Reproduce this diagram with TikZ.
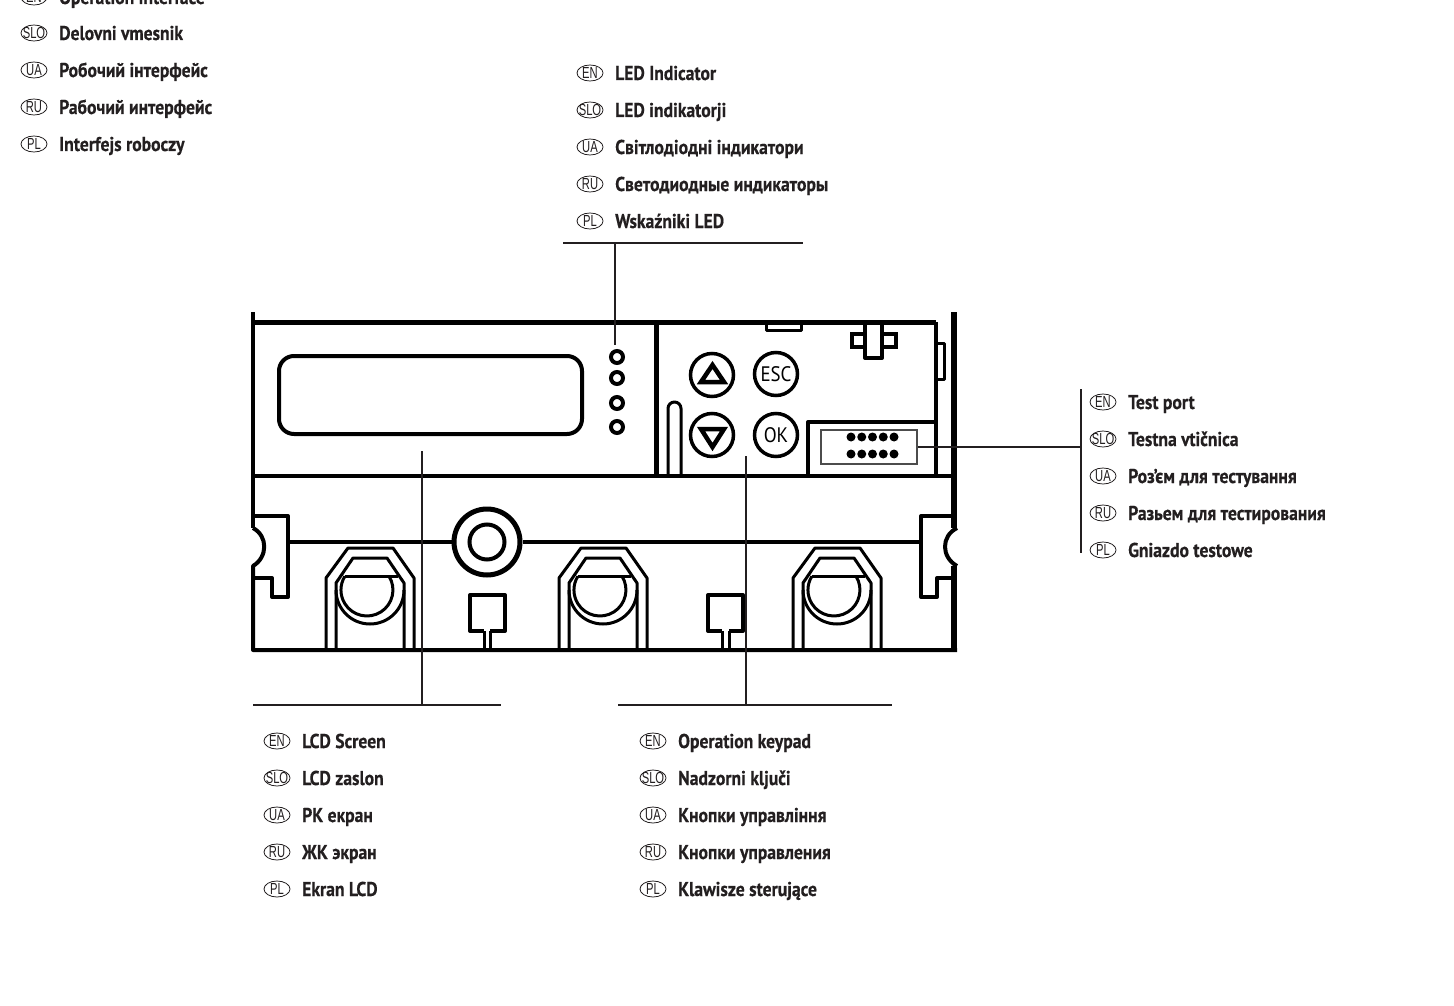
\documentclass[tikz,border=0pt]{standalone}
\usepackage{fontspec}
\usetikzlibrary{shapes.geometric}
\setmainfont{PT Sans}
\newfontfamily\lblfont[FakeStretch=0.88,FakeBold=0.4]{PT Sans Bold}
\newfontfamily\bdgfont[FakeStretch=0.7]{Liberation Sans}
\newfontfamily\keyfont[FakeStretch=0.9]{PT Sans}
\definecolor{ink}{HTML}{231F20}
\tikzset{
  heavy/.style={draw=black,line width=4pt,line join=round,line cap=round},
  medium/.style={draw=black,line width=3pt,line join=round},
  leader/.style={draw=ink,line width=2pt},
  badge/.style={ellipse,draw=ink,line width=0.8pt,minimum width=26pt,minimum height=16pt,inner sep=0pt,text=ink,font=\bdgfont\fontsize{16}{16}\selectfont},
  lbl/.style={anchor=base west,inner sep=0pt,text=ink,font=\lblfont\fontsize{20}{20}\selectfont},
  keybtn/.style={circle,draw=black,line width=3.5pt,minimum size=43pt,inner sep=0pt,font=\keyfont\fontsize{21}{21}\selectfont},
  led/.style={circle,draw=black,line width=4pt,minimum size=12pt,inner sep=0pt},
  pin/.style={circle,fill=black,minimum size=9pt,inner sep=0pt},
}
\newcommand{\lblrow}[5]{%
  \node[badge] (#1b) at (#2-25,#3) {\smash{\makebox[0pt]{\raisebox{-5.7pt}{#4}}}};
  \node[lbl] (#1t) at (#2,#3+7) {#5};
}
\newcommand{\terminal}[1]{%
  \begin{scope}[xshift=#1pt]
    \draw[medium] (326,650) -- (326,578) -- (348,548) -- (393,548) -- (414,578) -- (414,650);
    \draw[medium] (336,650) -- (336,583) -- (353,558) -- (387,558) -- (404,583) -- (404,650);
    \draw[medium] (345,576) -- (398,576);
    \draw[medium] (389,576.2) arc[start angle=-32,end angle=212,radius=26];
    \draw[medium] (336,590) arc[start angle=180,end angle=0,radius=34];
  \end{scope}
}
\newcommand{\smallsq}[3]{%
  \draw[heavy,line cap=butt] (#2,631) -- (#1,631) -- (#1,595) -- (#1+35,595) -- (#1+35,631) -- (#3,631);
  \draw[medium] (#2,631) -- (#2,650);
  \draw[medium] (#3,631) -- (#3,650);
}
\begin{document}
\begin{tikzpicture}[x=1pt,y=-1pt]
\useasboundingbox (0,0) rectangle (1454,1006);
\clip (0,0) rectangle (1454,1006);
\fill[white] (0,0) rectangle (1454,1006);
% device frame
\draw[heavy,line cap=butt] (253,312) -- (253,528);
\draw[heavy,line cap=butt] (253,528) .. controls (268,536) and (268,557) .. (253,566) -- (253,650) -- (957,650);
\draw[heavy,line width=5pt,line cap=butt] (253,322.5) -- (936,322.5);
\draw[heavy,line cap=butt] (253,476) -- (957,476);
\draw[heavy,line width=6pt,line cap=butt] (954,312) -- (954,528);
\draw[heavy,line width=6pt,line cap=butt] (954,566) -- (954,650);
\draw[heavy,line cap=butt] (957,528) .. controls (941,536) and (941,557) .. (957,566);
% LCD window
\draw[heavy,rounded corners=15pt] (279,356) rectangle (582,434);
% LEDs
\node[led] (led1) at (617,357) {};
\node[led] (led2) at (617,378) {};
\node[led] (led3) at (617,403) {};
\node[led] (led4) at (617,427) {};
% keypad panel
\draw[heavy,line width=5pt,line cap=butt] (656,322) -- (656,476);
\draw[medium] (668,476) -- (668,408.5) arc[start angle=180,end angle=360,radius=6.5] -- (681,476);
\draw[heavy,line cap=butt] (936,322) -- (936,476);
\draw[medium] (766,324) -- (766,330) -- (801,330) -- (801,324);
\draw[medium] (936,343) -- (944,343) -- (944,379) -- (936,379);
\draw[heavy,line join=miter,line cap=butt] (865,334) -- (852,334) -- (852,347) -- (865,347);
\draw[heavy,line join=miter,line cap=butt] (882,334) -- (896,334) -- (896,347) -- (882,347);
\draw[heavy,line cap=butt] (865,322) -- (865,358) -- (882,358) -- (882,322);
% buttons
\node[keybtn] (up) at (712,375) {};
\node[keybtn] (down) at (712,435) {};
\node[keybtn] (esc) at (776,374) {ESC};
\node[keybtn] (ok) at (776,435) {OK};
\draw[heavy,line width=4.5pt,line join=miter] (701,382) -- (724,382) -- (712.5,365) -- cycle;
\draw[heavy,line width=4.5pt,line join=miter] (701,429) -- (724,429) -- (712.5,447) -- cycle;
% test port
\draw[heavy,line cap=butt] (808,476) -- (808,422) -- (936,422);
\node[draw=black!70,line width=2pt,minimum width=96pt,minimum height=34pt,inner sep=0pt] (port) at (869,447) {};
\foreach \r/\yy in {1/437,2/454}{
  \foreach \c/\xx in {1/851,2/861.75,3/872.5,4/883.25,5/894}{
    \node[pin] (pin\r\c) at (\xx,\yy) {};
  }
}
% lower section
\draw[heavy,line cap=butt] (253,516) -- (288,516) -- (288,597) -- (272,597) -- (272,578) -- (253,578);
\draw[heavy,line cap=butt] (954,516) -- (921,516) -- (921,597) -- (937,597) -- (937,578) -- (954,578);
\node[circle,draw=black,line width=5pt,minimum size=66pt,inner sep=0pt] (ring) at (487,542) {};
\node[circle,draw=black,line width=4pt,minimum size=35pt,inner sep=0pt] (hub) at (487,542) {};
\draw[heavy,line cap=butt] (288,542) -- (ring);
\draw[heavy,line cap=butt] (ring) -- (921,542);
\terminal{0}
\terminal{233}
\terminal{467}
\smallsq{470}{484}{490}
\smallsq{708}{722}{729}
% leaders
\coordinate (ledbarL) at (563,243); \coordinate (ledbarR) at (803,243);
\coordinate (ledjoin) at (615,243); \coordinate (ledend) at (615,345);
\draw[leader] (ledbarL) -- (ledbarR);
\draw[leader] (ledjoin) -- (ledend);
\coordinate (lcdbarL) at (253,705); \coordinate (lcdbarR) at (501,705);
\coordinate (lcdjoin) at (422,705); \coordinate (lcdend) at (422,451);
\draw[leader] (lcdbarL) -- (lcdbarR);
\draw[leader] (lcdjoin) -- (lcdend);
\coordinate (keybarL) at (618,705); \coordinate (keybarR) at (892,705);
\coordinate (keyjoin) at (746,705); \coordinate (keyend) at (746,456);
\draw[leader] (keybarL) -- (keybarR);
\draw[leader] (keyjoin) -- (keyend);
\coordinate (portbarT) at (1081,389); \coordinate (portbarB) at (1081,553);
\coordinate (portjoin) at (1081,447);
\draw[leader] (portbarT) -- (portbarB);
\draw[leader] (port.east) -- (portjoin);
% labels
\lblrow{a1}{59}{-3}{EN}{Operation interface}
\lblrow{a2}{59}{33}{SLO}{Delovni vmesnik}
\lblrow{a3}{59}{70}{UA}{Робочий інтерфейс}
\lblrow{a4}{59}{107}{RU}{Рабочий интерфейс}
\lblrow{a5}{59}{144}{PL}{Interfejs roboczy}
\lblrow{b1}{615}{73}{EN}{LED Indicator}
\lblrow{b2}{615}{110}{SLO}{LED indikatorji}
\lblrow{b3}{615}{147}{UA}{Світлодіодні індикатори}
\lblrow{b4}{615}{184}{RU}{Светодиодные индикаторы}
\lblrow{b5}{615}{221}{PL}{Wskaźniki LED}
\lblrow{c1}{1128}{402}{EN}{Test port}
\lblrow{c2}{1128}{439}{SLO}{Testna vtičnica}
\lblrow{c3}{1128}{476}{UA}{Роз’єм для тестування}
\lblrow{c4}{1128}{513}{RU}{Разьем для тестирования}
\lblrow{c5}{1128}{550}{PL}{Gniazdo testowe}
\lblrow{d1}{302}{741}{EN}{LCD Screen}
\lblrow{d2}{302}{778}{SLO}{LCD zaslon}
\lblrow{d3}{302}{815}{UA}{РК екран}
\lblrow{d4}{302}{852}{RU}{ЖК экран}
\lblrow{d5}{302}{889}{PL}{Ekran LCD}
\lblrow{e1}{678}{741}{EN}{Operation keypad}
\lblrow{e2}{678}{778}{SLO}{Nadzorni ključi}
\lblrow{e3}{678}{815}{UA}{Кнопки управління}
\lblrow{e4}{678}{852}{RU}{Кнопки управления}
\lblrow{e5}{678}{889}{PL}{Klawisze sterujące}
\end{tikzpicture}
\end{document}
